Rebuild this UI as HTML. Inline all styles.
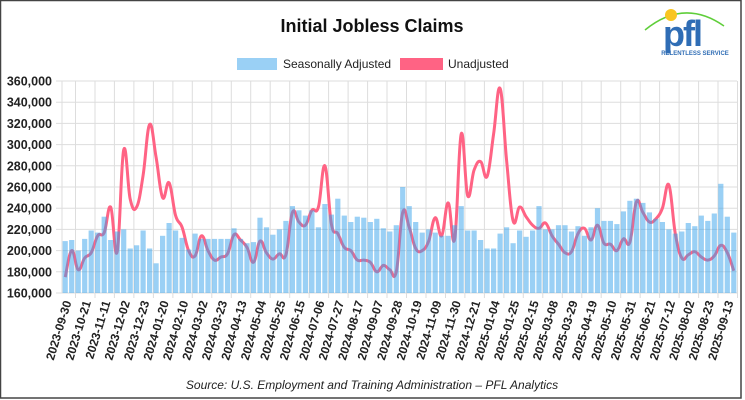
<!DOCTYPE html>
<html><head><meta charset="utf-8"><style>
html,body{margin:0;padding:0;background:#fff}
svg{display:block}
text{font-family:"Liberation Sans",Arial,sans-serif}
</style></head><body>
<svg id="c" width="745" height="400" xmlns="http://www.w3.org/2000/svg">
<rect x="0.5" y="0.5" width="740.5" height="397.5" fill="#fff" stroke="#444" stroke-width="1.5"/>
<text x="372" y="32" font-size="18" font-weight="bold" text-anchor="middle" fill="#111">Initial Jobless Claims</text>
<rect x="237" y="58" width="40" height="12" fill="#9ad0f5"/>
<text x="283" y="68" font-size="12" fill="#222">Seasonally Adjusted</text>
<rect x="400" y="58" width="43" height="12" fill="#ff6384"/>
<text x="448" y="68" font-size="12" fill="#222">Unadjusted</text>
<path d="M645 30 Q684 -2 724 26" fill="none" stroke="#5fce3a" stroke-width="1.5"/>
<circle cx="671" cy="15" r="6" fill="#f9c520"/>
<text x="682" y="46" font-size="36" font-weight="bold" text-anchor="middle" fill="#2f6db5" letter-spacing="-2">pfl</text>
<text x="695" y="55" font-size="6" font-weight="bold" text-anchor="middle" fill="#2f6db5">RELENTLESS SERVICE</text>
<g id="g"></g>
<text x="372" y="389" font-size="12" font-style="italic" text-anchor="middle" fill="#222">Source: U.S. Employment and Training Administration – PFL Analytics</text>
</svg>
<script>
var bars=[209,210,200,211,219,217,232,210,218,220,202,205,219,202,188,214,226,219,212,201,216,211,211,211,211,211,221,211,207,208,231,222,215,220,228,242,238,233,238,222,244,234,249,233,227,232,231,
227,230,221,218,224,260,242,227,217,220,217,214,214,224,242,219,219,210,202,202,216,222,207,219,213,219,242,220,220,224,224,218,223,214,222,240,228,228,225,237,247,249,245,236,230,227,220,216,218,226,223,233,228,235,263,232,217];
var line=[175,200,182,193,198,214,217,241,199,295,249,241,271,319,288,250,264,233,222,200,195,214,200,191,194,197,215,210,203,189,209,198,192,197,196,236,227,224,238,241,280,225,216,203,200,191,191,
189,180,186,182,180,236,222,202,200,209,231,214,245,211,310,252,276,284,270,310,353,285,228,241,232,224,221,226,214,206,198,199,216,221,210,224,207,206,200,211,208,246,236,227,230,240,262,216,193,196,199,194,191,195,205,198,181];
var L=62,R=737,T=81,B=293,n=104,pw=(R-L)/n;
function Y(v){return B-(v-160)/200*(B-T);}
function X(i){return L+(i+0.5)*pw;}
var s='';
for(var k=0;k<=10;k++){var y=(B-k*(B-T)/10).toFixed(1);
s+='<line x1="56" x2="'+R+'" y1="'+y+'" y2="'+y+'" stroke="#ddd" stroke-width="1"/>';
s+='<text x="52" y="'+(+y+4.5)+'" font-size="12.5" font-weight="bold" text-anchor="end" fill="#222">'+(160+20*k)+',000</text>';}
s+='<line x1="'+L+'" x2="'+L+'" y1="'+T+'" y2="'+B+'" stroke="#ddd"/>';
for(var x=75.5;x<=R+1;x+=3*pw){s+='<line x1="'+x.toFixed(1)+'" x2="'+x.toFixed(1)+'" y1="'+T+'" y2="'+(B+5)+'" stroke="#ddd"/>';}
var p='M'+X(0)+' '+Y(line[0]);var t=0.2;
for(var i=0;i<n-1;i++){var p0=i>0?i-1:i,p3=i+2<n?i+2:i+1;
var c1x=X(i)+(X(i+1)-X(p0))*t,c1y=Y(line[i])+(Y(line[i+1])-Y(line[p0]))*t;
var c2x=X(i+1)-(X(p3)-X(i))*t,c2y=Y(line[i+1])-(Y(line[p3])-Y(line[i]))*t;
p+=' C'+c1x.toFixed(1)+' '+c1y.toFixed(1)+' '+c2x.toFixed(1)+' '+c2y.toFixed(1)+' '+X(i+1).toFixed(1)+' '+Y(line[i+1]).toFixed(1);}
s+='<path d="'+p+'" fill="none" stroke="#ff6384" stroke-width="3" stroke-linejoin="round"/>';
var bw=pw*0.8;
for(var i=0;i<n;i++){var y=Y(bars[i]);s+='<rect x="'+(X(i)-bw/2).toFixed(1)+'" y="'+y.toFixed(1)+'" width="'+bw.toFixed(1)+'" height="'+(B-y).toFixed(1)+'" fill="rgba(54,162,235,0.5)"/>';}
var labs=["2023-09-30","2023-10-21","2023-11-11","2023-12-02","2023-12-23","2024-01-20","2024-02-10","2024-03-02","2024-03-23","2024-04-13","2024-05-04","2024-05-25","2024-06-15","2024-07-06","2024-07-27","2024-08-17","2024-09-07","2024-09-28","2024-10-19","2024-11-09","2024-11-30","2024-12-21","2025-01-04","2025-01-25","2025-02-15","2025-03-08","2025-03-29","2025-04-19","2025-05-10","2025-05-31","2025-06-21","2025-07-12","2025-08-02","2025-08-23","2025-09-13"];
labs.forEach(function(l,k){var x=X(3*k)+2.5;s+='<text transform="translate('+x.toFixed(1)+',301) rotate(-73)" font-size="12" font-weight="bold" text-anchor="end" dominant-baseline="central" fill="#222">'+l+'</text>';});
document.getElementById('g').innerHTML=s;
</script>
</body></html>
